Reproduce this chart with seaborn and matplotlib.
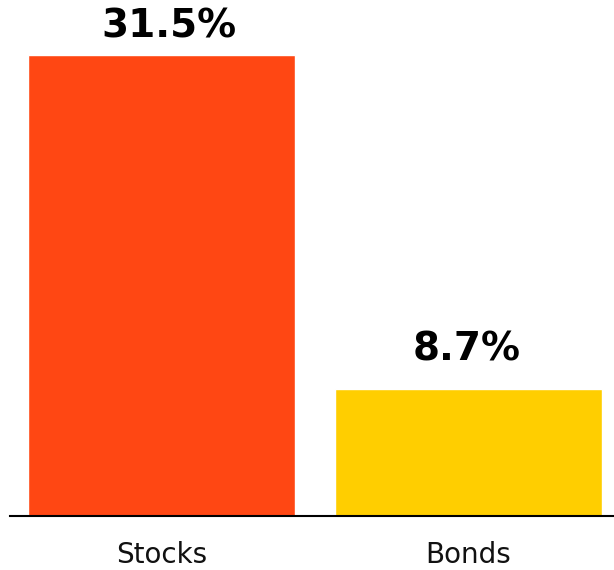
import matplotlib
matplotlib.use("Agg")
from matplotlib import pyplot as plt
import seaborn as sns
import pandas as pd

categories = ["Stocks", "Bonds"]
returns = [31.5, 8.7]
labels = ["31.5%", "8.7%"]
colors = ["#FF4713", "#FFCE00"]


def make_plot():
    sns.set_style("white")
    plt.rcParams["font.family"] = ["DejaVu Sans"]
    df = pd.DataFrame({"Asset": categories, "Return": returns})

    fig = plt.figure(figsize=(6.14, 5.70), dpi=100)
    ax = fig.add_axes([10 / 614, 54 / 570, 604 / 614, 516 / 570])
    sns.barplot(data=df, x="Asset", y="Return", hue="Asset", palette=colors,
                width=0.87, saturation=1, legend=False, ax=ax)

    # label offsets in pixels (the top one sits tighter to fit the figure)
    offsets = [(8, 18), (-2, 28)]
    for i, (v, lab) in enumerate(zip(returns, labels)):
        dx, dy = offsets[i]
        ax.annotate(lab, xy=(i, v), xytext=(dx * 0.72, dy * 0.72),
                    textcoords="offset points", ha="center", va="baseline",
                    fontsize=28, fontweight="bold", color="black")

    ax.set_xlim(-0.493, 1.474)
    ax.set_ylim(0, 31.5 * 516 / 461)
    ax.set_xlabel("")
    ax.set_ylabel("")
    ax.set_yticks([])
    ax.tick_params(axis="x", length=0, labelsize=20, pad=18, labelcolor="#111111")
    for side in ["top", "right", "left"]:
        ax.spines[side].set_visible(False)
    ax.spines["bottom"].set_color("black")
    ax.spines["bottom"].set_linewidth(1.5)


def save_plot_as(filename):
    make_plot()
    plt.savefig(filename, dpi=100)
    plt.close()


if __name__ == "__main__":
    save_plot_as("out.png")
